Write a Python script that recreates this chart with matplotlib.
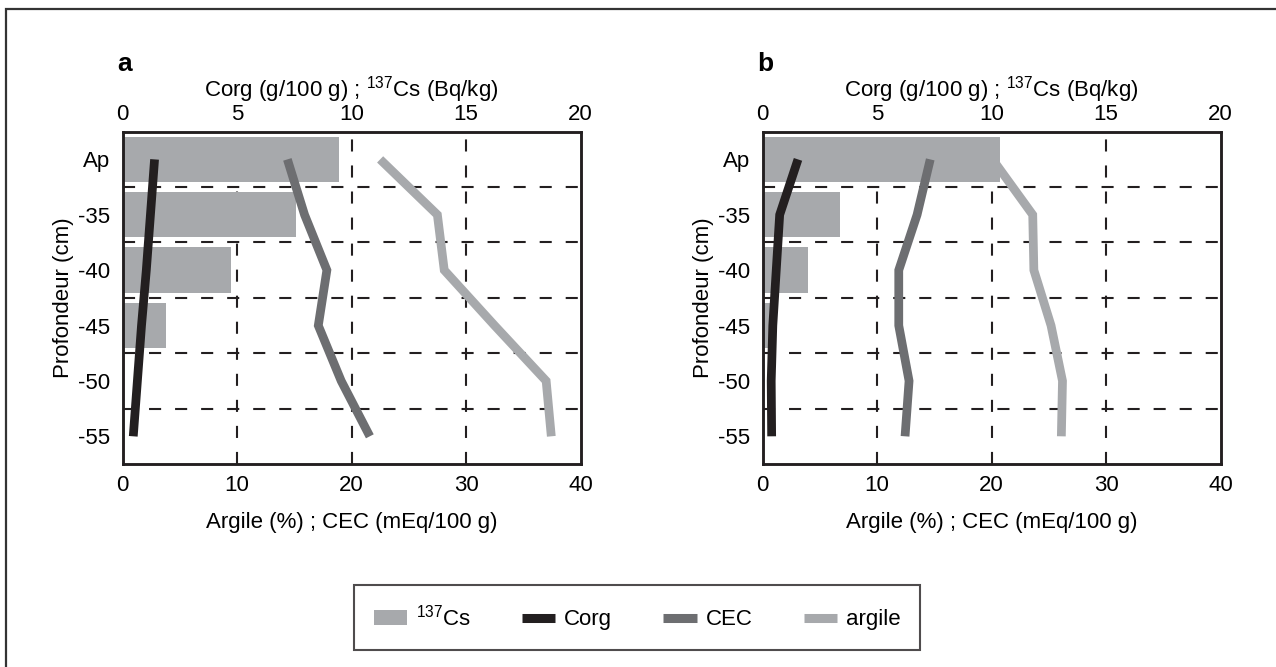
import numpy as np
import matplotlib
matplotlib.use('Agg')
import matplotlib.pyplot as plt
from matplotlib.patches import Patch, Rectangle
from matplotlib.lines import Line2D

# depth classes (top to bottom)
depths = ['Ap', '-35', '-40', '-45', '-50', '-55']

# panel a
cs_a = [9.47, 7.59, 4.74, 1.88]            # 137Cs (Bq/kg), top axis
corg_a = [1.4, 1.22, 1.04, 0.83, 0.65, 0.47]  # Corg (g/100 g), top axis
cec_a = [14.4, 15.9, 17.85, 17.1, 19.1, 21.6]  # CEC (mEq/100 g), bottom axis
argile_a = [22.5, 27.5, 28.1, 32.5, 37.0, 37.45]  # argile (%), bottom axis

# panel b
cs_b = [10.35, 3.38, 1.97, 0.6]
corg_b = [1.55, 0.75, 0.6, 0.45, 0.38, 0.4]
cec_b = [14.65, 13.5, 11.9, 11.9, 12.8, 12.45]
argile_b = [20.1, 23.6, 23.7, 25.2, 26.2, 26.1]

C_CS = '#a7a9ac'
C_CORG = '#231f20'
C_CEC = '#6d6e71'
C_ARG = '#a7a9ac'
DASH = (0, (5.8, 6.7))
LW = 6.3

plt.rcParams['font.family'] = ['Liberation Sans', 'DejaVu Sans']
plt.rcParams['mathtext.fontset'] = 'custom'
plt.rcParams['mathtext.rm'] = 'Liberation Sans'
plt.rcParams['font.size'] = 16

W, H = 1276, 667
fig = plt.figure(figsize=(W / 100, H / 100), dpi=100)

# outer frame, cut by the image edges on the right and bottom
fig.add_artist(Rectangle((6 / W, -0.1), 1.2, 1.1 - 9 / H, transform=fig.transFigure,
                         fill=False, edgecolor='#333333', linewidth=1.6))


def panel(left, letter, cs, corg, cec, argile):
    y = np.arange(len(depths))
    # bottom layer: top scale (bars + Corg) and dashed grid
    ax2 = fig.add_axes([left / W, 1 - 464 / H, 458 / W, (464 - 131.7) / H])
    ax = fig.add_axes(ax2.get_position(), sharey=ax2)
    ax.patch.set_visible(False)

    ax2.set_xlim(0, 20)
    ax2.set_ylim(5.5, -0.5)
    ax2.set_xticks([0, 5, 10, 15, 20])
    ax2.xaxis.tick_top()
    ax2.xaxis.set_label_position('top')
    ax2.tick_params(which='both', length=0)
    ax2.tick_params(axis='x', pad=5)
    ax2.set_xlabel('Corg (g/100 g) ; $^{137}$Cs (Bq/kg)', labelpad=5)

    for v in ax2.get_xticks()[1:-1]:
        ax2.axvline(v, color=C_CORG, lw=1.5, linestyle=DASH, zorder=1)
    for v in y[:-1] + 0.5:
        ax2.axhline(v, color=C_CORG, lw=1.5, linestyle=DASH, zorder=1)

    ax2.barh(y[:len(cs)], cs, height=0.82, color=C_CS, zorder=2)
    ax2.plot(corg, y, color=C_CORG, lw=LW, solid_capstyle='butt', solid_joinstyle='miter', zorder=3)

    ax.set_xlim(0, 40)
    ax.set_xticks([0, 10, 20, 30, 40])
    ax.set_yticks(y)
    ax.set_yticklabels(depths)
    ax.tick_params(which='both', length=0)
    ax.tick_params(axis='x', pad=8)
    ax.tick_params(axis='y', pad=9)
    ax.set_xlabel('Argile (%) ; CEC (mEq/100 g)', labelpad=11.5)
    ax.set_ylabel('Profondeur (cm)', labelpad=3)
    ax.plot(argile, y, color=C_ARG, lw=LW, solid_capstyle='butt', solid_joinstyle='miter')
    ax.plot(cec, y, color=C_CEC, lw=LW, solid_capstyle='butt', solid_joinstyle='miter')

    for a in (ax, ax2):
        for s in a.spines.values():
            s.set_linewidth(1.8)
            s.set_color('#231f20')
    ax2.yaxis.set_visible(False)

    fig.text((left - 5.5) / W, 1 - 71 / H, letter, fontsize=19, fontweight='bold', va='baseline')


panel(122.5, 'a', cs_a, corg_a, cec_a, argile_a)
panel(762.5, 'b', cs_b, corg_b, cec_b, argile_b)

handles = [
    Patch(facecolor=C_CS, edgecolor='none'),
    Line2D([], [], color=C_CORG, lw=6.5, solid_capstyle='butt'),
    Line2D([], [], color=C_CEC, lw=6.5, solid_capstyle='butt'),
    Line2D([], [], color=C_ARG, lw=6.5, solid_capstyle='butt'),
]
labels = ['$^{137}$Cs', 'Corg', 'CEC', 'argile']
leg = fig.legend(handles, labels, loc='center', bbox_to_anchor=(637 / W, 1 - 617.5 / H),
                 ncol=4, frameon=True, fancybox=False, edgecolor='#231f20',
                 handlelength=1.5, handletextpad=0.4, columnspacing=2.3,
                 borderpad=0.9, borderaxespad=0)
leg.get_frame().set_linewidth(1.5)

plt.savefig('out.png', dpi=100)
